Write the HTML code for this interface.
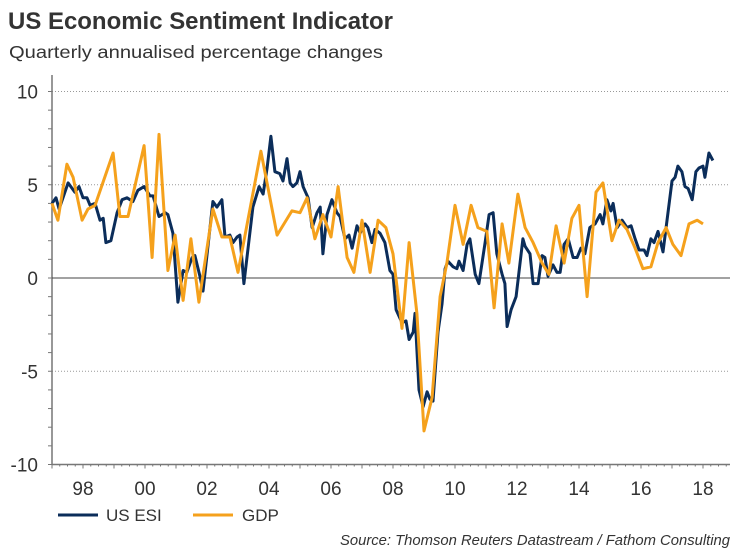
<!DOCTYPE html>
<html><head><meta charset="utf-8"><style>
body{margin:0;background:#fff;width:745px;height:550px;overflow:hidden;font-family:"Liberation Sans",Arial,sans-serif}
</style></head><body>
<svg width="745" height="550" xmlns="http://www.w3.org/2000/svg" font-family="Liberation Sans, Arial, sans-serif">
<text x="8" y="29" font-size="24.5" font-weight="bold" fill="#333" textLength="385" lengthAdjust="spacingAndGlyphs">US Economic Sentiment Indicator</text>
<text x="9" y="58" font-size="17.5" fill="#333" textLength="374" lengthAdjust="spacingAndGlyphs">Quarterly annualised percentage changes</text>
<g id="grid"></g>
<g id="axes"></g>
<g id="series"></g>
<g>
<line x1="58" y1="515" x2="98" y2="515" stroke="#0b2d5a" stroke-width="3"/>
<text x="106" y="521" font-size="17" fill="#333">US ESI</text>
<line x1="193" y1="515" x2="233" y2="515" stroke="#f5a11c" stroke-width="3"/>
<text x="242" y="521" font-size="17" fill="#333">GDP</text>
</g>
<text x="730" y="545" font-size="14.5" font-style="italic" fill="#333" text-anchor="end" textLength="390" lengthAdjust="spacingAndGlyphs">Source: Thomson Reuters Datastream / Fathom Consulting</text>
</svg>
<script>
const yTicks=[10,5,0,-5,-10];
const xTickYears=[1998,2000,2002,2004,2006,2008,2010,2012,2014,2016,2018];
const xTickLabels=["98","00","02","04","06","08","10","12","14","16","18"];
const gdpDates=[1997.0,1997.19,1997.48,1997.68,1997.97,1998.16,1998.39,1998.97,1999.19,1999.45,1999.97,2000.23,2000.45,2000.74,2000.97,2001.23,2001.48,2001.74,2002.19,2002.48,2002.74,2003.0,2003.74,2004.26,2004.74,2005.0,2005.23,2005.48,2005.74,2006.0,2006.23,2006.52,2006.74,2007.0,2007.26,2007.52,2007.77,2008.0,2008.29,2008.52,2008.77,2009.0,2009.26,2009.52,2009.74,2010.0,2010.26,2010.52,2010.74,2011.03,2011.26,2011.52,2011.74,2012.03,2012.26,2012.52,2012.81,2013.03,2013.26,2013.52,2013.77,2014.0,2014.26,2014.55,2014.77,2015.06,2015.29,2015.55,2015.81,2016.06,2016.32,2016.55,2016.81,2017.03,2017.29,2017.55,2017.81,2018.0];
const gdpValues=[4.0,3.1,6.1,5.4,3.1,3.7,3.9,6.7,3.3,3.3,7.1,1.1,7.7,0.4,2.3,-1.2,2.1,-1.3,3.7,2.2,2.2,0.3,6.8,2.3,3.6,3.5,4.3,2.1,3.4,2.2,4.9,1.1,0.3,3.1,0.3,3.1,2.7,1.3,-2.7,1.9,-1.9,-8.2,-6.4,-1.0,0.8,3.9,1.8,3.9,2.7,2.5,-1.6,2.9,0.8,4.5,2.7,1.9,0.8,0.2,2.8,0.8,3.2,3.9,-1.0,4.6,5.1,2.0,3.1,2.6,1.6,0.5,0.6,1.9,2.7,1.8,1.2,2.9,3.1,2.9];
const esiDates=[1997.00,1997.13,1997.23,1997.52,1997.74,1997.87,1998.00,1998.13,1998.23,1998.39,1998.55,1998.65,1998.74,1998.90,1999.10,1999.26,1999.42,1999.61,1999.77,1999.97,2000.16,2000.26,2000.45,2000.65,2000.74,2000.90,2001.06,2001.23,2001.35,2001.52,2001.61,2001.77,2001.87,2002.19,2002.32,2002.48,2002.58,2002.74,2002.84,2002.97,2003.06,2003.19,2003.48,2003.68,2003.81,2003.94,2004.06,2004.19,2004.35,2004.45,2004.58,2004.68,2004.77,2004.90,2005.00,2005.10,2005.26,2005.39,2005.55,2005.65,2005.74,2005.87,2006.03,2006.19,2006.29,2006.45,2006.58,2006.68,2006.84,2006.94,2007.10,2007.19,2007.32,2007.42,2007.58,2007.74,2007.90,2008.00,2008.10,2008.29,2008.42,2008.52,2008.65,2008.71,2008.84,2008.97,2009.10,2009.19,2009.29,2009.45,2009.58,2009.68,2009.77,2009.94,2010.06,2010.13,2010.26,2010.39,2010.48,2010.65,2010.77,2010.97,2011.10,2011.23,2011.35,2011.52,2011.61,2011.68,2011.81,2011.97,2012.19,2012.26,2012.42,2012.52,2012.68,2012.81,2012.90,2013.00,2013.16,2013.29,2013.39,2013.52,2013.65,2013.81,2013.94,2014.06,2014.19,2014.35,2014.52,2014.68,2014.77,2014.90,2015.03,2015.10,2015.23,2015.39,2015.55,2015.68,2015.81,2015.94,2016.10,2016.19,2016.32,2016.42,2016.55,2016.71,2016.81,2017.00,2017.10,2017.19,2017.32,2017.42,2017.52,2017.65,2017.77,2017.87,2018.00,2018.06,2018.19,2018.32];
const esiValues=[4.0,4.3,3.7,5.1,4.6,4.9,4.3,4.3,3.9,4.0,3.1,3.2,1.9,2.0,3.5,4.2,4.3,4.1,4.7,4.9,4.4,4.4,3.3,3.5,3.4,2.4,-1.3,0.4,0.3,1.1,1.2,0.1,-0.7,4.1,3.8,4.2,2.2,2.3,1.9,2.2,2.3,-0.3,3.8,4.9,4.5,5.9,7.6,5.7,5.6,5.2,6.4,5.1,4.9,5.1,5.7,4.9,4.3,2.7,3.5,3.8,1.3,3.4,4.2,3.5,3.3,2.1,2.3,1.6,2.8,2.4,2.9,2.7,1.9,2.6,2.4,1.9,0.4,0.2,-1.7,-2.4,-2.3,-3.3,-2.9,-1.9,-6.0,-6.9,-6.1,-6.5,-6.6,-2.9,-1.4,0.5,0.9,0.6,0.5,0.9,0.4,1.8,2.1,0.2,-0.3,1.9,3.4,3.5,1.3,0.2,-0.3,-2.6,-1.7,-1.0,2.1,1.7,1.3,-0.3,-0.3,1.2,1.1,0.1,0.7,0.3,0.3,1.8,2.1,1.1,1.1,1.6,1.3,2.7,2.9,3.4,2.9,4.2,3.6,4.0,2.7,3.1,2.7,2.8,2.1,1.5,1.5,1.2,2.1,1.9,2.5,1.4,2.7,5.2,5.4,6.0,5.7,4.9,4.8,4.2,5.7,5.9,6.0,5.4,6.7,6.3];

const NS="http://www.w3.org/2000/svg";
const X0=52,X1=730;
const xs=y=>X0+(y-1997)*31;
const ys=v=>278-v*18.65;
function mk(tag,attrs,parent){const e=document.createElementNS(NS,tag);for(const k in attrs)e.setAttribute(k,attrs[k]);parent.appendChild(e);return e;}
const grid=document.getElementById('grid'),axes=document.getElementById('axes'),series=document.getElementById('series');
yTicks.forEach(v=>{
  if(v!==0&&v!==-10){const l=mk('line',{x1:X0,x2:X1,y1:ys(v),y2:ys(v),stroke:'#999','stroke-width':1,'stroke-dasharray':'1,2'},grid);
  
  }
  const t=mk('text',{x:38,y:ys(v)+7,'font-size':19,fill:'#333','text-anchor':'end'},axes);
  t.textContent=v;
  
  
});
for(let v=-10;v<=10;v++){const l=mk('line',{x1:X0-4,x2:X0,y1:ys(v),y2:ys(v),stroke:'#777','stroke-width':1},axes);
  
  }
const yax=mk('line',{x1:X0,x2:X0,y1:75,y2:ys(-10),stroke:'#777','stroke-width':1.5},axes);


const zl=mk('line',{x1:X0,x2:X1,y1:ys(0),y2:ys(0),stroke:'#444','stroke-width':1},axes);


const xax=mk('line',{x1:X0,x2:X1,y1:ys(-10),y2:ys(-10),stroke:'#777','stroke-width':1.5},axes);


for(let q=1997;q<=2018.75;q+=0.25){const big=Math.abs(q-Math.round(q))<0.01;
  const l=mk('line',{x1:xs(q),x2:xs(q),y1:ys(-10),y2:ys(-10)+(big?4:2),stroke:'#777','stroke-width':1},axes);
  
  }
xTickYears.forEach((y,i)=>{const t=mk('text',{x:xs(y),y:495,'font-size':19,fill:'#333','text-anchor':'middle'},axes);
  t.textContent=xTickLabels[i];
  
  });
function line(d,v,color,name){const p=mk('polyline',{points:d.map((y,i)=>xs(y).toFixed(1)+','+ys(v[i]).toFixed(1)).join(' '),fill:'none',stroke:color,'stroke-width':3,'stroke-linejoin':'round'},series);
  
  }
line(esiDates,esiValues,'#0b2d5a','us-esi-line');
line(gdpDates,gdpValues,'#f5a11c','gdp-line');
</script>
</body></html>
